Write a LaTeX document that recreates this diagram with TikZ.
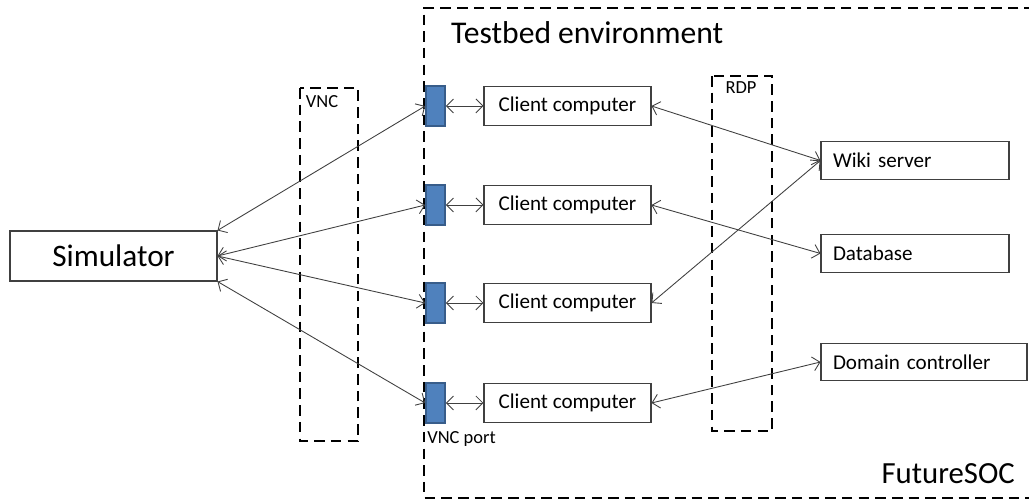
\documentclass[tikz,border=0pt]{standalone}
\usepackage{fontspec}
\setmainfont{Carlito}
\usetikzlibrary{arrows.meta}

\definecolor{portfill}{RGB}{79,129,189}
\definecolor{portline}{RGB}{56,93,138}

\tikzset{
  link/.style={draw=black!75, line width=0.5pt, {Straight Barb[length=4pt,width=8pt]}-{Straight Barb[length=4pt,width=8pt]}},
  zone/.style={draw, line width=1.1pt, dash pattern=on 6pt off 3.5pt},
  simbox/.style={draw=black!75, line width=0.6pt, minimum width=4.14cm, minimum height=1cm, inner sep=0pt, font=\fontsize{17.8}{20}\selectfont},
  clientbox/.style={draw=black!75, line width=0.6pt, minimum width=3.34cm, minimum height=0.78cm, inner sep=0pt, font=\fontsize{12}{14}\selectfont},
  srvbox/.style={draw=black!75, line width=0.6pt, minimum height=0.75cm, inner xsep=0.24cm, inner ysep=0pt, align=left, font=\fontsize{12}{14}\selectfont},
  port/.style={draw=portline, fill=portfill, line width=0.9pt, minimum width=0.38cm, minimum height=0.8cm, inner sep=0pt}
}

\begin{document}
\begin{tikzpicture}[x=0.02cm,y=-0.02cm]
        \useasboundingbox (0,0) rectangle (1029,502);

        \draw[zone] (1035,8) -- (424,8) -- (424,498) -- (1035,498);
        \node[anchor=west, font=\fontsize{18}{20}\selectfont] (testbed) at (445,33) {Testbed environment};
        \node[anchor=east, font=\fontsize{17.5}{20}\selectfont] (soc) at (1021,474) {FutureSOC};

        \draw[zone] (300,88) rectangle (358,441);
        \node[font=\fontsize{10.5}{12}\selectfont] (vnc) at (322,102) {VNC};
        \draw[zone] (712,76) rectangle (772,431);
        \node[font=\fontsize{10.5}{12}\selectfont] (rdp) at (741,88) {RDP};

        \node[simbox] (sim) at (113.5,256) {Simulator};

        \foreach \i/\y in {1/106,2/205,3/303,4/403} {
          \node[port] (port\i) at (435.5,\y) {};
          \node[clientbox] (client\i) at (567.5,\y) {Client computer};
          \draw[link] (port\i) -- (client\i);
        }
        \node[anchor=north west, inner sep=0pt, font=\fontsize{10.5}{12}\selectfont] (portlbl) at (427,431) {VNC port};

        \node[srvbox, text width=3.28cm] (wiki) at (915,160.5) {Wiki server};
        \node[srvbox, text width=3.28cm] (db) at (915,253.5) {Database};
        \node[srvbox, text width=3.64cm] (dc) at (924,362) {Domain controller};

        \draw[link] (sim.north east) -- (port1.west);
        \draw[link] (sim.east) -- (port2.west);
        \draw[link] (sim.east) -- (port3.west);
        \draw[link] (sim.south east) -- (port4.west);

        \draw[link] (client1.east) -- (wiki.west);
        \draw[link] (client2.east) -- (db.west);
        \draw[link] (client3.east) -- (wiki.west);
        \draw[link] (client4.east) -- (dc.west);
      \end{tikzpicture}
\end{document}
